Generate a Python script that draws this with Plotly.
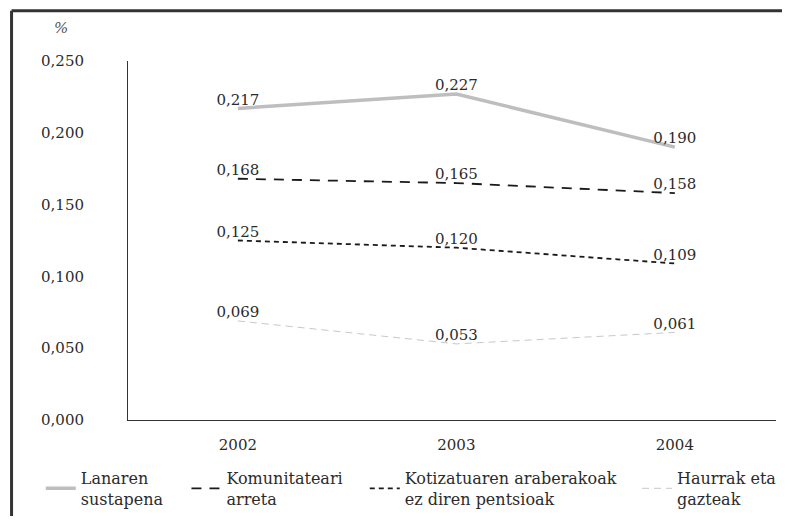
import plotly.graph_objects as go

years = ["2002", "2003", "2004"]
series_names = [
    "Lanaren<br>sustapena",
    "Komunitateari<br>arreta",
    "Kotizatuaren araberakoak<br>ez diren pentsioak",
    "Haurrak eta<br>gazteak",
]
lanaren = [0.217, 0.227, 0.190]
komunitateari = [0.168, 0.165, 0.158]
kotizatuaren = [0.125, 0.120, 0.109]
haurrak = [0.069, 0.053, 0.061]
y_ticks = [0.0, 0.05, 0.10, 0.15, 0.20, 0.25]

values = [lanaren, komunitateari, kotizatuaren, haurrak]
styles = [
    dict(color="#BEBEBE", width=3.5, dash="solid"),
    dict(color="#1a1a1a", width=1.8, dash="10px,8px"),
    dict(color="#1a1a1a", width=1.8, dash="5px,4px"),
    dict(color="#C8C8C8", width=1, dash="7px,5px"),
]
legend_ids = ["legend", "legend2", "legend3", "legend4"]
legend_x = [-0.1346, 0.0902, 0.3654, 0.7859]

FONT = "DejaVu Serif"
TXT = "#2b2b2b"

fig = go.Figure()
for name, vals, st, lid in zip(series_names, values, styles, legend_ids):
    fig.add_trace(go.Scatter(
        x=years, y=vals, name=name, mode="lines+text",
        line=st, legend=lid,
        text=[f"{v:.3f}".replace(".", ",") for v in vals],
        textposition="top center",
        textfont=dict(family=FONT, size=15, color=TXT),
        hoverinfo="skip",
    ))

legend_common = dict(
    orientation="h", y=-0.115, xanchor="left", yanchor="top",
    font=dict(family=FONT, size=16, color=TXT),
    itemwidth=30, bgcolor="rgba(0,0,0,0)",
)
layout_legends = {}
for lid, lx in zip(legend_ids, legend_x):
    layout_legends[lid] = dict(legend_common, x=lx)

fig.update_layout(
    width=774, height=508,
    margin=dict(l=120, r=0, t=53, b=94),
    paper_bgcolor="white", plot_bgcolor="white",
    separators=",.",
    font=dict(family=FONT, size=15, color=TXT),
    showlegend=True,
    modebar=dict(bgcolor="rgba(0,0,0,0)", color="rgba(0,0,0,0)",
                 activecolor="rgba(0,0,0,0)"),
    xaxis=dict(
        type="category", range=[-0.503, 2.463], showgrid=False, zeroline=False,
        showline=True, linecolor="#333333", linewidth=1,
        ticks="", ticklabelstandoff=11,
        tickfont=dict(family=FONT, size=15, color=TXT),
    ),
    yaxis=dict(
        range=[0, 0.25], showgrid=False, zeroline=False,
        showline=True, linecolor="#333333", linewidth=1,
        tickvals=y_ticks, tickformat=".3f", ticks="",
        ticklabelstandoff=40,
        tickfont=dict(family=FONT, size=15, color=TXT),
    ),
    shapes=[
        dict(type="line", xref="paper", yref="paper",
             x0=-0.1797, x1=-0.1797, y0=-0.35, y1=1.14,
             line=dict(color="#333333", width=3)),
        dict(type="line", xref="paper", yref="paper",
             x0=-0.1797, x1=1.05, y0=1.14, y1=1.14,
             line=dict(color="#333333", width=3)),
    ],
    annotations=[
        dict(text="<i>%</i>", xref="paper", yref="paper",
             x=-0.1040, y=1.0914, xanchor="center", yanchor="middle",
             showarrow=False,
             font=dict(family=FONT, size=15, color="#555555")),
    ],
    **layout_legends,
)

fig.write_html("out.html")
